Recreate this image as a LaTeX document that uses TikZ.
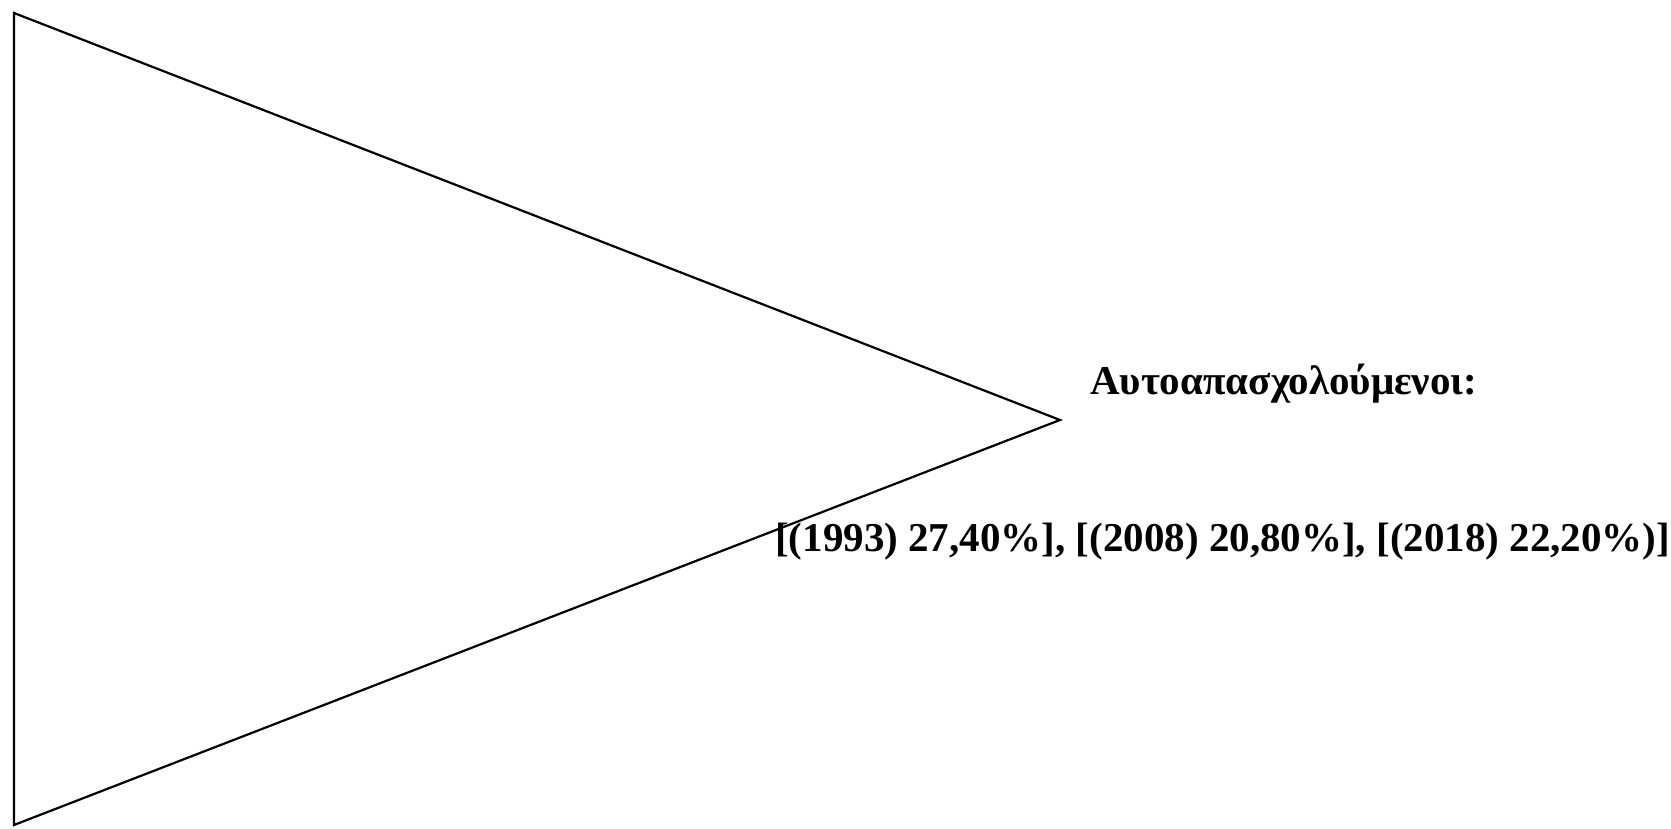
\documentclass[tikz,border=0pt]{standalone}
\usepackage{fontspec}
\setmainfont{Liberation Serif}
\begin{document}
\begin{tikzpicture}[x=1pt,y=1pt,
  lbl/.style={inner sep=0pt, anchor=base west, font=\fontsize{41}{48}\selectfont\bfseries}]
\useasboundingbox (0,0) rectangle (1671,829);
\coordinate (tl) at (14,816);
\coordinate (bl) at (14,4);
\coordinate (ap) at (1060,409);
\draw[line width=2.2pt, line join=miter] (tl) -- (ap) -- (bl) -- cycle;
\node[lbl] (t1) at (1090,434) {Αυτοαπασχολούμενοι:};
\node[lbl] (t2) at (775,277) {[(1993) 27,40\%], [(2008) 20,80\%], [(2018) 22,20\%)]};
\end{tikzpicture}
\end{document}
